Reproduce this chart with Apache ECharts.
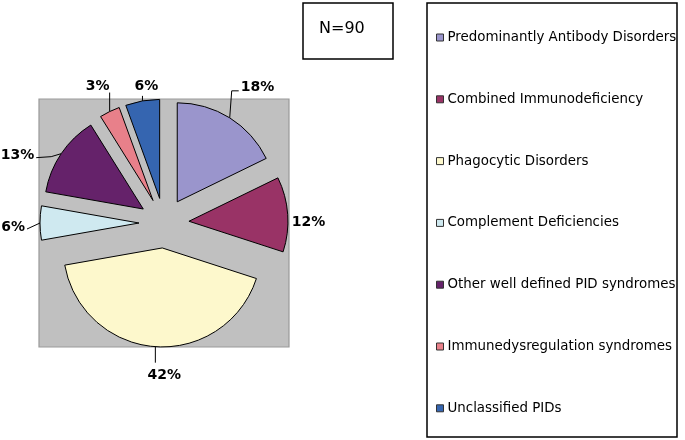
<!DOCTYPE html>
<html>
<head>
<meta charset="utf-8">
<script src="https://cdn.jsdelivr.net/npm/echarts@6/dist/echarts.min.js"></script>
<style>html,body{margin:0;padding:0;background:#fff}#c{width:685px;height:440px}</style>
</head>
<body>
<div id="c"></div>
<script>
var categories = ['Predominantly Antibody Disorders','Combined Immunodeficiency','Phagocytic Disorders','Complement Deficiencies','Other well defined PID syndromes','Immunedysregulation syndromes','Unclassified PIDs'];
var counts = [16, 11, 38, 5, 12, 3, 5];
var colors = ['#9a95cc','#993366','#fdf8cc','#cfe9f0','#65226a','#e8808a','#3565b0'];
var totalLabel = 'N=90';

// label placement style relative to slice edge point: line bend points, label anchor, alignment
var labelStyle = [
  {line: [[2,-27],[9,-27]], at: [11,-30], align: 'left'},
  {line: [], at: [4,8], align: 'left'},
  {line: [[0,16]], at: [9,29], align: 'center'},
  {line: [[-13,6]], at: [-15,4], align: 'right'},
  {line: [[-10,3],[-25,4]], at: [-27,2], align: 'right'},
  {line: [[0,-19]], at: [-12,-25], align: 'center'},
  {line: [[0,-5]], at: [4,-15], align: 'center'}
];

var chart = echarts.init(document.getElementById('c'));
var data = categories.map(function(n, i){ return {name: n, value: counts[i], selected: true, itemStyle: {color: colors[i]}}; });
chart.setOption({
  animation: false,
  title: {
    text: totalLabel, left: 303, top: 3,
    padding: [18, 29, 22, 16],
    borderColor: '#000', borderWidth: 1.5,
    textStyle: {fontFamily: 'DejaVu Sans', fontSize: 16, fontWeight: 'normal', color: '#000'}
  },
  graphic: [
    {type: 'rect', z: -1, shape: {x: 39, y: 99, width: 250, height: 248}, style: {fill: '#c0c0c0', stroke: '#999999', lineWidth: 1.2}},
    {type: 'rect', z: -1, shape: {x: 427, y: 3, width: 250, height: 434}, style: {fill: '#fff', stroke: '#000', lineWidth: 1.5}}
  ],
  legend: {
    orient: 'vertical', left: 431, top: 26,
    itemGap: 48.8, itemWidth: 7, itemHeight: 7, icon: 'rect',
    itemStyle: {borderColor: '#333', borderWidth: 1},
    textStyle: {fontFamily: 'DejaVu Sans', fontSize: 13.4, color: '#000', padding: [0,0,0,-1]},
    data: categories
  },
  series: [{
    type: 'pie',
    center: [164, 223], radius: 99,
    startAngle: 90, clockwise: true,
    selectedMode: 'multiple', selectedOffset: 25,
    avoidLabelOverlap: false,
    itemStyle: {borderColor: '#000', borderWidth: 1},
    label: {
      show: true, position: 'outside',
      formatter: function(p){ return Math.round(p.percent) + '%'; },
      fontFamily: 'DejaVu Sans', fontSize: 14, fontWeight: 'bold', color: '#000',
      distanceToLabelLine: 2
    },
    labelLine: {show: true, length: 8, length2: 6, lineStyle: {color: '#000', width: 1}},
    labelLayout: function(p){
      var s = p.labelLinePoints[0];
      var st = labelStyle[p.dataIndex];
      var pts = [[s[0], s[1]]];
      st.line.forEach(function(d){ pts.push([s[0]+d[0], s[1]+d[1]]); });
      while (pts.length < 3) pts.push(pts[pts.length-1].slice());
      var r = p.labelRect;
      var ax = s[0] + st.at[0], ay = s[1] + st.at[1];
      var left = st.align === 'left' ? ax : st.align === 'right' ? ax - r.width : ax - r.width / 2;
      return {dx: left - r.x, dy: ay - (r.y + r.height / 2), labelLinePoints: pts};
    },
    emphasis: {disabled: true},
    data: data
  }]
});
</script>
</body>
</html>
